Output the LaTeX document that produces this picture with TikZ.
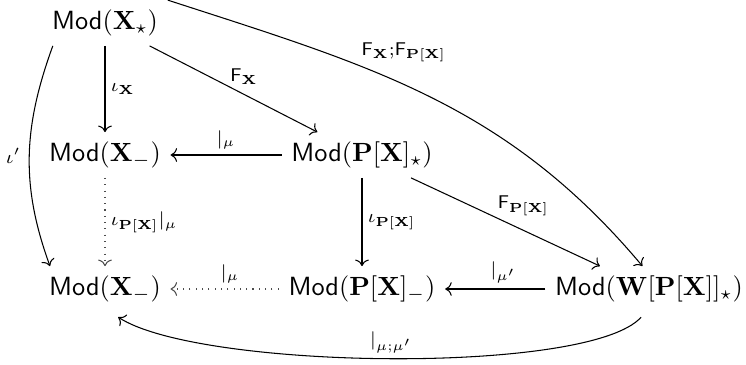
\documentclass[tikz,border=0pt]{standalone}
\usepackage{amsmath,amssymb}
\usetikzlibrary{cd}
\begin{document}
\begin{tikzpicture}[x=0.38pt,y=-0.38pt,
  obj/.style={inner sep=3.5pt},
  lab/.style={font=\scriptsize, inner sep=2pt},
  arr/.style={-{cm to}, line width=0.4pt},
  dotarr/.style={-{cm to}, line width=0.4pt, dotted, black!70}]
\useasboundingbox (0,0) rectangle (746,365);
\node[obj] (a) at (105,23) {$\mathsf{Mod}(\mathbf{X}_\star)$};
\node[obj] (b) at (105,155) {$\mathsf{Mod}(\mathbf{X}_-)$};
\node[obj] (c) at (362,155) {$\mathsf{Mod}(\mathbf{P}[\mathbf{X}]_\star)$};
\node[obj] (d) at (105,289) {$\mathsf{Mod}(\mathbf{X}_-)$};
\node[obj] (e) at (362,289) {$\mathsf{Mod}(\mathbf{P}[\mathbf{X}]_-)$};
\node[obj] (f) at (649,289) {$\mathsf{Mod}(\mathbf{W}[\mathbf{P}[\mathbf{X}]]_\star)$};

\draw[arr] (a) -- node[lab, right] {$\iota_{\mathbf{X}}$} (b);
\draw[arr] (a) -- node[lab, anchor=south west, inner sep=0.5pt, pos=0.47] {$\mathsf{F}_{\mathbf{X}}$} (c);
\draw[arr] (a.north east) to[out=-18, in=130] node[lab, anchor=south west, inner sep=1pt, pos=0.35] {$\mathsf{F}_{\mathbf{X}}{;}\mathsf{F}_{\mathbf{P}[\mathbf{X}]}$} ([xshift=-2.5pt]f.north);
\draw[arr] ([xshift=4pt]a.south west) to[out=250, in=110] node[lab, left, inner sep=3pt] {$\iota'$} ([xshift=4pt]d.north west);
\draw[arr] (c) -- node[lab, above] {$|_{\mu}$} (b);
\draw[dotarr] (b) -- node[lab, right, black] {$\iota_{\mathbf{P}[\mathbf{X}]}|_{\mu}$} (d);
\draw[arr] (c) -- node[lab, right] {$\iota_{\mathbf{P}[\mathbf{X}]}$} (e);
\draw[arr] (c) -- node[lab, anchor=south west, inner sep=0.5pt, pos=0.45] {$\mathsf{F}_{\mathbf{P}[\mathbf{X}]}$} (f);
\draw[dotarr] (e) -- node[lab, above, black, pos=0.45] {$|_{\mu}$} (d);
\draw[arr] (f) -- node[lab, above, pos=0.42] {$|_{\mu'}$} (e);
\draw[arr] ([xshift=-3pt,yshift=-2pt]f.south) .. controls (590,375) and (200,370) .. node[lab, above, pos=0.5] {$|_{\mu;\mu'}$} ([xshift=5pt,yshift=-2pt]d.south);
\end{tikzpicture}
\end{document}
